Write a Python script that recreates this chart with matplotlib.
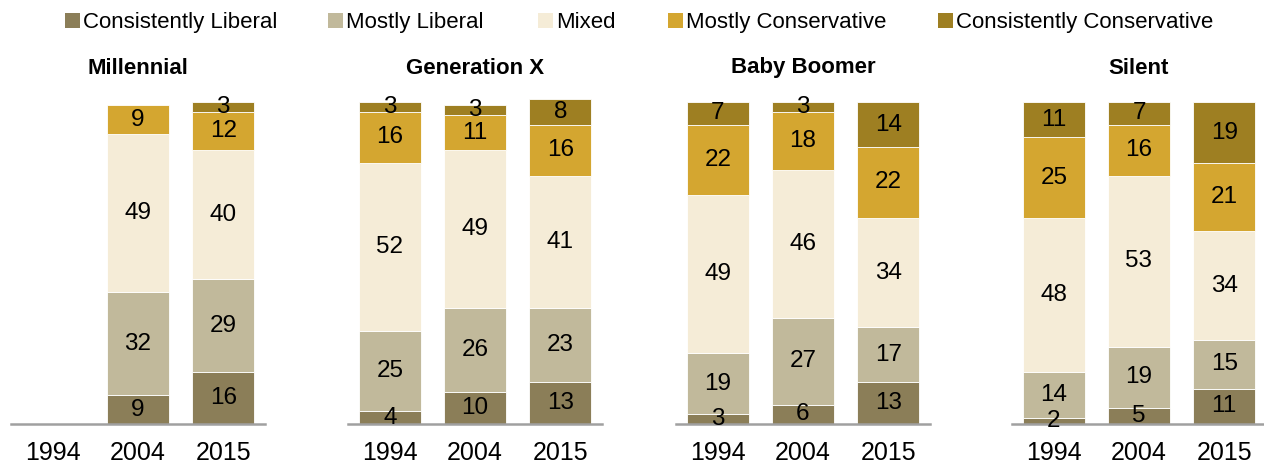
import matplotlib
matplotlib.use("Agg")
import matplotlib.pyplot as plt
from matplotlib.patches import Rectangle
import numpy as np

plt.rcParams['font.family'] = ['Liberation Sans', 'DejaVu Sans']

# dados
generations = ["Millennial", "Generation X", "Baby Boomer", "Silent"]
years = ["1994", "2004", "2015"]
categories = ["Consistently Liberal", "Mostly Liberal", "Mixed",
              "Mostly Conservative", "Consistently Conservative"]
colors = ["#8b7e58", "#c1b99b", "#f5ecd7", "#d4a630", "#9e7f22"]

# valores por geração: uma lista por categoria, um valor por ano (None = sem barra)
millennial = [[None, 9, 16], [None, 32, 29], [None, 49, 40], [None, 9, 12], [None, 0, 3]]
gen_x = [[4, 10, 13], [25, 26, 23], [52, 49, 41], [16, 11, 16], [3, 3, 8]]
boomer = [[3, 6, 13], [19, 27, 17], [49, 46, 34], [22, 18, 22], [7, 3, 14]]
silent = [[2, 5, 11], [14, 19, 15], [48, 53, 34], [25, 16, 21], [11, 7, 19]]
panels = [millennial, gen_x, boomer, silent]

W, H = 1264, 463
fig = plt.figure(figsize=(W / 100, H / 100), dpi=100)

lefts_px = [11, 348, 676, 1012]
panel_w = 254
base_px = 424
unit_px = 3.22

for gi, (name, data) in enumerate(zip(generations, panels)):
    ax = fig.add_axes([lefts_px[gi] / W, (H - base_px) / H,
                       panel_w / W, 100 * unit_px / H])
    x = np.arange(len(years))
    for yi in range(len(years)):
        if data[0][yi] is None:
            continue
        bottom = 0
        for ci in range(len(categories)):
            v = data[ci][yi]
            if v == 0:
                continue
            ax.bar(x[yi], v, bottom=bottom, width=0.73, color=colors[ci],
                   edgecolor="white", linewidth=0.6, clip_on=False)
            ax.text(x[yi], bottom + v / 2, str(v), ha="center", va="center",
                    fontsize=17.5, color="black", clip_on=False)
            bottom += v
    ax.set_xlim(-0.49, 2.49)
    ax.set_ylim(0, 100)
    ax.set_xticks(x)
    ax.set_xticklabels(years, fontsize=18)
    ax.tick_params(axis="x", length=0, pad=12)
    ax.set_yticks([])
    for s in ["top", "left", "right"]:
        ax.spines[s].set_visible(False)
    ax.spines["bottom"].set_color("#a0a0a0")
    ax.spines["bottom"].set_linewidth(1.8)
    ax.set_zorder(1)
    cx = (lefts_px[gi] + panel_w / 2) / W
    fig.text(cx, 1 - 68 / H, name, ha="center", va="center",
             fontsize=16, fontweight="bold")

# legenda feita à mão: quadrado + texto na mesma linha de base
legend_x = [65, 328, 538, 668, 938]
for lx, lab, c in zip(legend_x, categories, colors):
    fig.patches.append(Rectangle((lx / W, 1 - 28 / H), 15 / W, 15 / H,
                                 facecolor=c, edgecolor="none",
                                 transform=fig.transFigure, figure=fig))
    fig.text((lx + 18) / W, 1 - 28 / H, lab, ha="left", va="baseline",
             fontsize=16)

fig.savefig("out.png", dpi=100)
